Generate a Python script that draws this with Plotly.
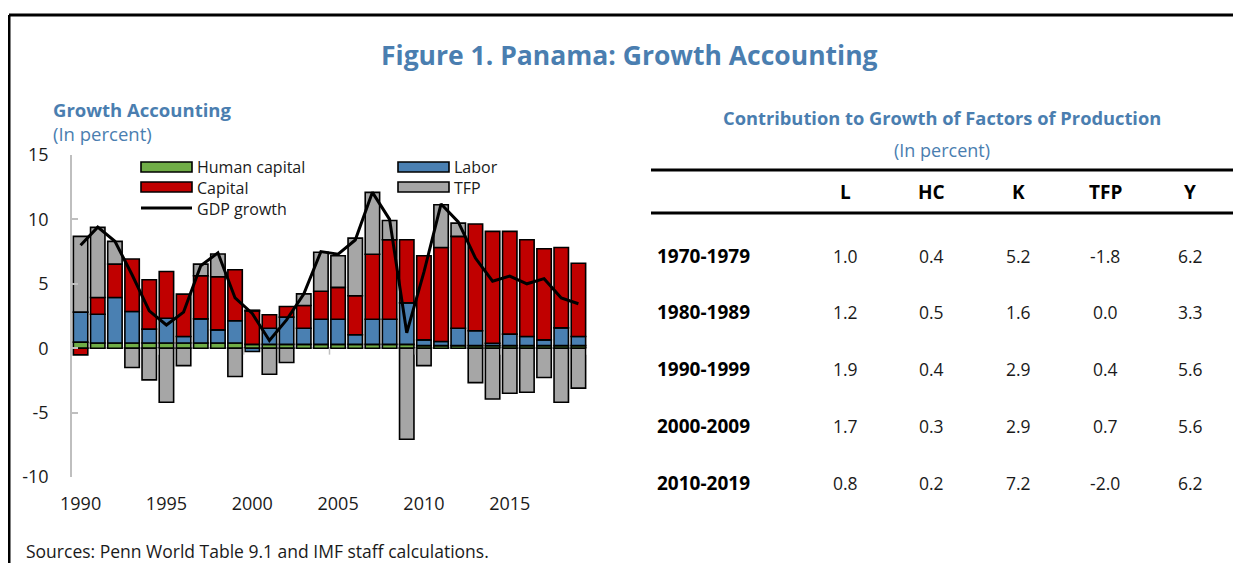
import plotly.graph_objects as go

# ---------------- data ----------------
years = list(range(1990, 2020))

human_capital = [0.47, 0.40, 0.40, 0.40, 0.40, 0.40, 0.40, 0.40, 0.40, 0.40,
                 0.30, 0.30, 0.30, 0.30, 0.30, 0.30, 0.30, 0.30, 0.30, 0.30,
                 0.20, 0.20, 0.20, 0.20, 0.20, 0.20, 0.20, 0.20, 0.20, 0.20]
labor = [2.33, 2.24, 3.54, 2.45, 1.08, 1.93, 0.51, 1.88, 1.02, 1.73,
         -0.26, 1.25, 2.11, 1.25, 1.95, 1.95, 0.74, 1.95, 1.95, 3.22,
         0.45, 0.32, 1.35, 1.15, 0.19, 0.89, 0.71, 0.45, 1.38, 0.71]
capital = [-0.52, 1.30, 2.59, 4.07, 3.83, 3.63, 3.29, 3.34, 4.13, 3.96,
           2.60, 1.05, 0.83, 1.77, 2.17, 2.47, 3.03, 5.05, 6.17, 4.90,
           6.53, 7.30, 7.13, 8.29, 8.68, 7.98, 7.51, 7.07, 6.24, 5.69]
tfp = [5.88, 5.44, 1.76, -1.50, -2.46, -4.20, -1.35, 0.91, 1.76, -2.20,
       0.05, -2.02, -1.11, 0.90, 3.03, 2.46, 4.48, 4.80, 1.50, -7.07,
       -1.35, 3.32, 1.03, -2.67, -3.94, -3.50, -3.42, -2.28, -4.20, -3.10]
gdp_growth = [8.0, 9.4, 8.3, 5.7, 2.9, 1.8, 2.8, 6.4, 7.4, 3.9,
              2.7, 0.6, 2.2, 4.2, 7.5, 7.3, 8.4, 12.1, 10.0, 1.2,
              5.9, 11.2, 9.8, 7.0, 5.2, 5.6, 5.0, 5.4, 3.9, 3.45]

x_tick_years = [1990, 1995, 2000, 2005, 2010, 2015]
y_ticks = [-10, -5, 0, 5, 10, 15]
y_tick_labels = ["-10", "-5", "0", "5", "10", "15"]

table_columns = ["L", "HC", "K", "TFP", "Y"]
table_periods = ["1970-1979", "1980-1989", "1990-1999", "2000-2009", "2010-2019"]
table_L = ["1.0", "1.2", "1.9", "1.7", "0.8"]
table_HC = ["0.4", "0.5", "0.4", "0.3", "0.2"]
table_K = ["5.2", "1.6", "2.9", "2.9", "7.2"]
table_TFP = ["-1.8", "0.0", "0.4", "0.7", "-2.0"]
table_Y = ["6.2", "3.3", "5.6", "5.6", "6.2"]

# ---------------- style ----------------
FONT = "Open Sans"
BLUE_TXT = "#4a7eb0"
TXT = "#1a1a1a"
C_GREEN = "#70ad47"
C_BLUE = "#4a80b2"
C_RED = "#c00000"
C_GREY = "#a6a6a6"
AXIS_GREY = "#bfbfbf"

OFF = 8                      # page body margin
W, H = 1241 - OFF, 563 - OFF
# plot area in reference-pixel coordinates
PL, PR, PT, PB = 72, 587, 155, 477


def px(x):
    return (x - PL) / (PR - PL)


def py(y):
    return (PB - y) / (PB - PT)


fig = go.Figure()

series = [("Human capital", human_capital, C_GREEN),
          ("Labor", labor, C_BLUE),
          ("Capital", capital, C_RED),
          ("TFP", tfp, C_GREY)]
for name, vals, col in series:
    fig.add_trace(go.Bar(x=years, y=vals, name=name,
                         marker=dict(color=col, line=dict(color="black", width=1.6)),
                         showlegend=False))

fig.add_trace(go.Scatter(x=years, y=gdp_growth, mode="lines", name="GDP growth",
                         line=dict(color="black", width=3), showlegend=False))

shapes = []
annotations = []

# figure border (top and left)
shapes.append(dict(type="line", xref="paper", yref="paper", x0=px(9), x1=px(1260),
                   y0=py(15), y1=py(15), line=dict(color="black", width=3)))
shapes.append(dict(type="line", xref="paper", yref="paper", x0=px(9), x1=px(9),
                   y0=py(15), y1=py(580), line=dict(color="black", width=3)))

# x ticks crossing zero line
for t in [1994.5, 1999.5, 2004.5, 2009.5, 2014.5, 2019.5]:
    shapes.append(dict(type="line", xref="x", yref="y", x0=t, x1=t, y0=0, y1=-0.5,
                       line=dict(color=AXIS_GREY, width=1.5)))

# legend (manual): swatches
leg = [(C_GREEN, 141, 167), (C_BLUE, 398, 167), (C_RED, 141, 187), (C_GREY, 398, 187)]
for col, lx, ly in leg:
    shapes.append(dict(type="rect", xref="paper", yref="paper",
                       x0=px(lx), x1=px(lx + 51), y0=py(ly - 5), y1=py(ly + 5),
                       fillcolor=col, line=dict(color="black", width=1.6)))
shapes.append(dict(type="line", xref="paper", yref="paper", x0=px(141), x1=px(192),
                   y0=py(208), y1=py(208), line=dict(color="black", width=3)))
# legend labels (one text block per column)
LEG_SIZE = 16
annotations.append(dict(text="Human capital<br>Capital<br>GDP growth", xref="paper", yref="paper",
                        x=px(195), y=py(187.5), xanchor="left", yanchor="middle", align="left",
                        showarrow=False, font=dict(family=FONT, size=LEG_SIZE, color=TXT)))
annotations.append(dict(text="Labor<br>TFP", xref="paper", yref="paper",
                        x=px(452), y=py(177), xanchor="left", yanchor="middle", align="left",
                        showarrow=False, font=dict(family=FONT, size=LEG_SIZE, color=TXT)))

# titles
annotations.append(dict(text="<b>Figure 1. Panama: Growth Accounting</b>", xref="paper", yref="paper",
                        x=px(629), y=py(55), xanchor="center", yanchor="middle", showarrow=False,
                        font=dict(family=FONT, size=26.5, color=BLUE_TXT)))
annotations.append(dict(text="<b>Growth Accounting</b><br>(In percent)", xref="paper", yref="paper",
                        x=px(51), y=py(121.5), xanchor="left", yanchor="middle", align="left",
                        showarrow=False, font=dict(family=FONT, size=18.5, color=BLUE_TXT)))
annotations.append(dict(text="Sources: Penn World Table 9.1 and IMF staff calculations.", xref="paper",
                        yref="paper", x=px(24), y=py(551), xanchor="left", yanchor="middle",
                        showarrow=False, font=dict(family=FONT, size=17.5, color=TXT)))

# table
annotations.append(dict(text="<b>Contribution to Growth of Factors of Production</b>", xref="paper",
                        yref="paper", x=px(942), y=py(117), xanchor="center", yanchor="middle",
                        showarrow=False, font=dict(family=FONT, size=18.3, color=BLUE_TXT)))
annotations.append(dict(text="(In percent)", xref="paper", yref="paper", x=px(942), y=py(150),
                        xanchor="center", yanchor="middle", showarrow=False,
                        font=dict(family=FONT, size=18, color=BLUE_TXT)))
for yy in (170, 213):
    shapes.append(dict(type="line", xref="paper", yref="paper", x0=px(651), x1=px(1245),
                       y0=py(yy), y1=py(yy), line=dict(color="black", width=3)))
col_x = [845, 931, 1018, 1105, 1190]
for cx, cname in zip(col_x, table_columns):
    annotations.append(dict(text="<b>%s</b>" % cname, xref="paper", yref="paper", x=px(cx), y=py(192),
                            xanchor="center", yanchor="middle", showarrow=False,
                            font=dict(family=FONT, size=19, color="black")))
row_y = [256, 312, 369, 426, 483]
cols = [table_L, table_HC, table_K, table_TFP, table_Y]
for i, (ry, period) in enumerate(zip(row_y, table_periods)):
    annotations.append(dict(text="<b>%s</b>" % period, xref="paper", yref="paper", x=px(655), y=py(ry),
                            xanchor="left", yanchor="middle", showarrow=False,
                            font=dict(family=FONT, size=19, color="black")))
    for cx, colvals in zip(col_x, cols):
        annotations.append(dict(text=colvals[i], xref="paper", yref="paper", x=px(cx), y=py(ry),
                                xanchor="center", yanchor="middle", showarrow=False,
                                font=dict(family=FONT, size=17.5, color=TXT)))

fig.update_layout(
    width=W, height=H,
    margin=dict(l=PL - OFF, r=W - (PR - OFF), t=PT - OFF, b=H - (PB - OFF), pad=0),
    paper_bgcolor="white", plot_bgcolor="white",
    barmode="relative", bargap=0.16,
    shapes=shapes, annotations=annotations,
    font=dict(family=FONT, color=TXT),
    xaxis=dict(range=[1989.5, 2019.5], tickvals=x_tick_years, ticks="", showline=False,
               showgrid=False, zeroline=False, ticklabelstandoff=14,
               tickfont=dict(family=FONT, size=18, color=TXT)),
    yaxis=dict(range=[-10, 15], tickvals=y_ticks, ticktext=y_tick_labels, ticks="inside", ticklen=6,
               tickcolor=AXIS_GREY, tickwidth=1.5, showline=True, linecolor=AXIS_GREY, linewidth=1.5,
               showgrid=False, zeroline=True, zerolinecolor=AXIS_GREY, zerolinewidth=2,
               ticklabelstandoff=18, tickfont=dict(family=FONT, size=18, color=TXT)),
)

fig.write_html("out.html")
